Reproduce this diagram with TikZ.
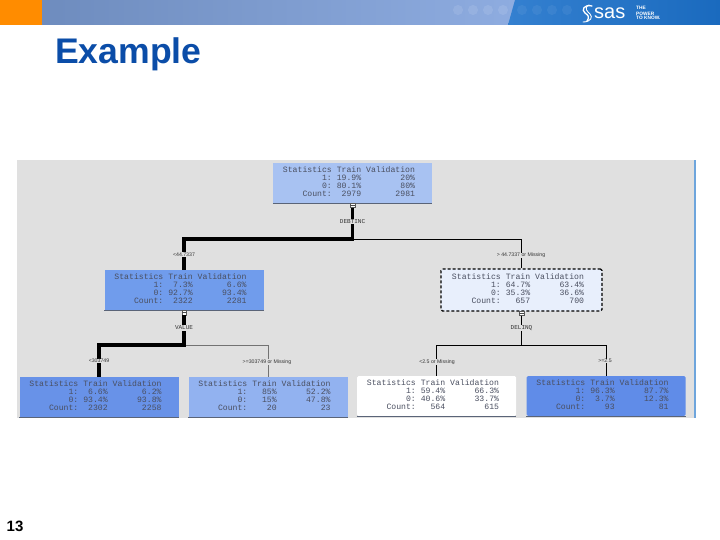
\documentclass[tikz,border=0pt]{standalone}
\usepackage{fontspec}
\setmainfont{Liberation Sans}
\newfontfamily\boxfont{Liberation Mono}
\definecolor{panelgray}{HTML}{E0E0E0}
\definecolor{boxtext}{HTML}{4A4F60}
\definecolor{titleblue}{HTML}{0B4DA8}
\definecolor{bottomline}{HTML}{5A6478}
\definecolor{hdrorange}{RGB}{255,140,0}
\definecolor{hdrA}{RGB}{110,140,190}
\definecolor{hdrB}{RGB}{142,172,224}
\definecolor{hdrC}{RGB}{52,128,208}
\definecolor{hdrD}{RGB}{26,106,190}
\definecolor{paneledge}{RGB}{110,165,220}
\definecolor{fillroot}{RGB}{168,194,242}
\definecolor{fillleft}{RGB}{112,156,236}
\definecolor{fillright}{RGB}{232,239,252}
\definecolor{fillll}{RGB}{104,146,232}
\definecolor{filllr}{RGB}{146,178,240}
\definecolor{fillrr}{RGB}{96,140,232}
\tikzset{
  statnode/.style={minimum width=159pt,minimum height=40pt,inner sep=0pt,text=boxtext},
  heavy/.style={draw=black,line width=3.6pt,line join=miter},
  light/.style={draw=black,line width=0.9pt},
  faint/.style={draw=black!55,line width=0.6pt},
  varlabel/.style={fill=panelgray,inner sep=0.6pt,font=\boxfont\fontsize{6}{6}\selectfont,text=black!80},
  edgelabel/.style={fill=panelgray,inner sep=0.4pt,font=\fontsize{5.2}{6}\selectfont,text=black!80},
  collapse/.style={draw=black!65,fill=white,minimum size=4.5pt,inner sep=0pt,line width=0.5pt},
  bluedot/.style={circle,fill=white,fill opacity=0.1,minimum size=10pt,inner sep=0pt},
  bluedotdim/.style={circle,fill=white,fill opacity=0.06,minimum size=10pt,inner sep=0pt}
}
\newcommand{\statrows}[6]{{\boxfont\fontsize{8.15}{7.9}\selectfont%
  \begin{tabular}{@{}r@{\hspace{4.9pt}}r@{\hspace{4.9pt}}r@{}}
  Statistics & Train & Validation\\
  1: & #1 & #2\\
  0: & #3 & #4\\
  Count: & #5 & #6
  \end{tabular}\kern7pt}}
\newcommand{\statbox}[9]{%
  \node[statnode,#3] (#1) at (#2) {\statrows{#4}{#5}{#6}{#7}{#8}{#9}};
  \draw[bottomline,line width=0.7pt] (#1.south west) -- (#1.south east);}
\begin{document}
\begin{tikzpicture}[x=1pt,y=-1pt]
\useasboundingbox (0,0) rectangle (720,540);
\fill[white] (0,0) rectangle (720,540);
% header
\fill[hdrorange] (0,0) rectangle (42,25);
\shade[left color=hdrA,right color=hdrB] (42,0) rectangle (516,25);
\shade[left color=hdrC,right color=hdrD] (515,0) -- (720,0) -- (720,25) -- (508,25) -- cycle;
\foreach \i/\cx in {a/458,b/473,c/488,d/503}{\node[bluedot] (dot\i) at (\cx,10) {};}
\foreach \i/\cx in {e/522,f/537,g/552,h/567}{\node[bluedotdim] (dot\i) at (\cx,10) {};}
% logo
\node[anchor=base west,inner sep=0pt,text=white,font=\fontsize{20}{20}\selectfont] (sasword) at (594,19) {sas};
\draw[white,line width=1.3pt,line cap=round] (592,6) .. controls (584,4) and (581,10) .. (585,13) .. controls (588,15) and (590,17) .. (587,21);
\draw[white,line width=0.9pt,line cap=round] (589,5) .. controls (583,8) and (588,12) .. (590,14) .. controls (593,17) and (591,22) .. (583,22);
\node[anchor=north west,inner sep=0pt,text=white,align=left,font=\bfseries\fontsize{4.8}{5}\selectfont] (tagline) at (636,6.5) {THE\\POWER\\TO KNOW.};
% title
\node[anchor=base west,inner sep=0pt,text=titleblue,font=\bfseries\fontsize{35.6}{36}\selectfont] (title) at (55,64) {Example};
\node[anchor=base west,inner sep=0pt,text=black,font=\bfseries\fontsize{15}{15}\selectfont] (pagenum) at (6.5,531.5) {13};
% panel
\fill[panelgray] (17,160) rectangle (694,418);
\fill[paneledge] (694,160) rectangle (695.5,418);
% boxes
\statbox{root}{352.5,183}{fill=fillroot}{19.9\%}{20\%}{80.1\%}{80\%}{2979}{2981}
\statbox{lefttwo}{184,290}{fill=fillleft}{7.3\%}{6.6\%}{92.7\%}{93.4\%}{2322}{2281}
\node[statnode,fill=fillright,draw=black,densely dashed,line width=1.1pt,rounded corners=1.5pt,minimum width=161pt,minimum height=42pt] (righttwo) at (521.5,290) {\statrows{64.7\%}{63.4\%}{35.3\%}{36.6\%}{657}{700}};
\statbox{ll}{99,397}{fill=fillll}{6.6\%}{6.2\%}{93.4\%}{93.8\%}{2302}{2258}
\statbox{lr}{268,397}{fill=filllr}{85\%}{52.2\%}{15\%}{47.8\%}{20}{23}
\statbox{rl}{436.5,396}{fill=white,rounded corners=1.5pt}{59.4\%}{66.3\%}{40.6\%}{33.7\%}{564}{615}
\statbox{rr}{606,396}{fill=fillrr,rounded corners=1.5pt}{96.3\%}{87.7\%}{3.7\%}{12.3\%}{93}{81}
% buttons
\node[collapse] (btnroot) at (352.5,205.5) {};
\node[collapse] (btnleft) at (184,312.5) {};
\node[collapse] (btnright) at (521.5,313) {};
\draw[black!70,line width=0.5pt] (btnroot.west) -- (btnroot.east);
\draw[black!70,line width=0.5pt] (btnleft.west) -- (btnleft.east);
\draw[black!70,line width=0.5pt] (btnright.west) -- (btnright.east);
% junctions
\coordinate (jroot) at (352.5,239);
\coordinate (jleft) at (184,345);
\coordinate (jright) at (521.5,345);
% connectors
\draw[light] (jroot) -| (righttwo.north);
\draw[light] (btnright.south) -- (jright);
\draw[light] (jright) -| (rl.north);
\draw[light] (jright) -| (rr.north);
\draw[faint] (jleft) -| (lr.north);
\draw[heavy] (btnroot.south) -- (jroot) -| (lefttwo.north);
\draw[heavy] (btnleft.south) -- (jleft) -| (ll.north);
% labels
\node[varlabel] (vroot) at (352.5,221.5) {DEBTINC};
\node[varlabel] (vleft) at (184,328) {VALUE};
\node[varlabel] (vright) at (521.5,328) {DELINQ};
\node[edgelabel] (e1) at (184,254.5) {<44.7337};
\node[edgelabel] (e2) at (521,255.5) {> 44.7337 or Missing};
\node[edgelabel] (e3) at (99,361) {<303749};
\node[edgelabel] (e4) at (267,362) {>=303749 or Missing};
\node[edgelabel] (e5) at (437,362) {<2.5 or Missing};
\node[edgelabel] (e6) at (605,361) {>=2.5};
\end{tikzpicture}
\end{document}
